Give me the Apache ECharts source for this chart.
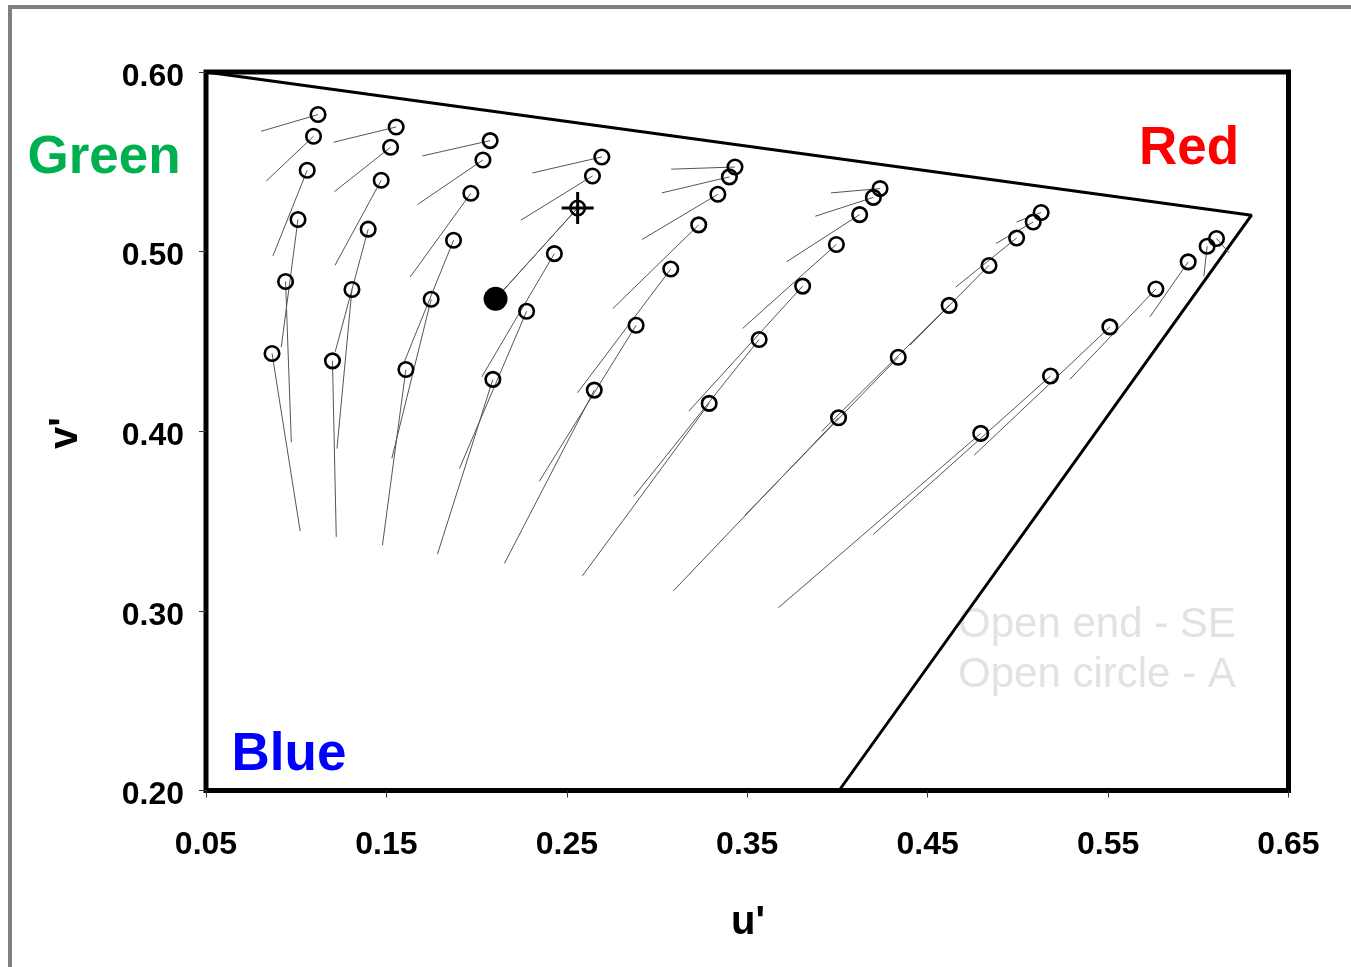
<!DOCTYPE html>
<html><head><meta charset="utf-8">
<script src="https://cdn.jsdelivr.net/npm/echarts@6/dist/echarts.min.js"></script>
<style>html,body{margin:0;padding:0;background:#fff}#c{width:1351px;height:967px}</style>
</head><body><div id="c"></div>
<script>
// Open circles (under illuminant A) and their open-end partners (SE), u'v'
const A1 = [[0.1121,0.5763],[0.1096,0.5642],[0.1061,0.5453],[0.1010,0.5179],[0.0941,0.4834],[0.0866,0.4433]];
const SE1 = [[0.0806,0.5670],[0.0834,0.5393],[0.0871,0.4976],[0.0917,0.4468],[0.0973,0.3939],[0.1022,0.3444]];
const A2 = [[0.1554,0.5694],[0.1523,0.5581],[0.1471,0.5397],[0.1399,0.5125],[0.1309,0.4789],[0.1201,0.4392]];
const SE2 = [[0.1207,0.5609],[0.1212,0.5334],[0.1215,0.4924],[0.1216,0.4442],[0.1226,0.3904],[0.1222,0.3412]];
const A3 = [[0.2075,0.5618],[0.2035,0.5510],[0.1968,0.5325],[0.1872,0.5063],[0.1748,0.4735],[0.1608,0.4344]];
const SE3 = [[0.1700,0.5533],[0.1672,0.5262],[0.1632,0.4859],[0.1599,0.4386],[0.1530,0.3849],[0.1478,0.3366]];
const A4 = [[0.2694,0.5527],[0.2642,0.5421],[0.2560,0.5243],[0.2431,0.4989],[0.2277,0.4668],[0.2090,0.4289]];
const SE4 = [[0.2309,0.5438],[0.2245,0.5175],[0.2105,0.4737],[0.2029,0.4303],[0.1905,0.3793],[0.1783,0.3316]];
const A5 = [[0.3432,0.5471],[0.3401,0.5416],[0.3337,0.5319],[0.3231,0.5149],[0.3076,0.4903],[0.2884,0.4590],[0.2652,0.4229]];
const SE5 = [[0.3078,0.5459],[0.3026,0.5327],[0.2916,0.5067],[0.2755,0.4683],[0.2559,0.4214],[0.2348,0.3722],[0.2154,0.3264]];
const A6 = [[0.4236,0.5351],[0.4199,0.5302],[0.4123,0.5206],[0.3994,0.5040],[0.3807,0.4808],[0.3566,0.4511],[0.3289,0.4155]];
const SE6 = [[0.3964,0.5327],[0.3877,0.5197],[0.3719,0.4944],[0.3474,0.4572],[0.3176,0.4112],[0.2871,0.3637],[0.2586,0.3195]];
const A7 = [[0.5129,0.5218],[0.5085,0.5165],[0.4993,0.5076],[0.4840,0.4923],[0.4619,0.4701],[0.4337,0.4412],[0.4006,0.4075]];
const SE7 = [[0.4993,0.5165],[0.4878,0.5045],[0.4655,0.4802],[0.4402,0.4479],[0.3913,0.4000],[0.3488,0.3533],[0.3091,0.3112]];
const A8 = [[0.6101,0.5073],[0.6049,0.5030],[0.5944,0.4943],[0.5765,0.4792],[0.5510,0.4581],[0.5181,0.4308],[0.4794,0.3988]];
const SE8 = [[0.6171,0.4993],[0.6031,0.4863],[0.5732,0.4637],[0.5288,0.4289],[0.4758,0.3867],[0.4199,0.3426],[0.3672,0.3017]];

const whiteA = [0.2560, 0.5243];
const whiteE = [0.2105, 0.4737];
const gamut = [[0.05, 0.60], [0.6295, 0.5203], [0.4009, 0.20]];

const uTicks = ['0.05','0.15','0.25','0.35','0.45','0.55','0.65'];
const vTicks = ['0.20','0.30','0.40','0.50','0.60'];

const aSets = [A1, A2, A3, A4, A5, A6, A7, A8];
const seSets = [SE1, SE2, SE3, SE4, SE5, SE6, SE7, SE8];

const segs = [];
aSets.forEach((a, k) => a.forEach((p, i) => segs.push({ coords: [p, seSets[k][i]] })));
const circles = [].concat(...aSets);

const chart = echarts.init(document.getElementById('c'), null, { renderer: 'canvas' });
const FONT = '"Liberation Sans", Arial, sans-serif';
const tickText = { fontFamily: FONT, fontSize: 32, fontWeight: 'bold', color: '#000' };
chart.setOption({
  animation: false,
  backgroundColor: '#fff',
  grid: { left: 206, right: 62.5, top: 72, bottom: 176.5, show: true, borderColor: '#000', borderWidth: 5, backgroundColor: 'transparent' },
  xAxis: {
    type: 'value', min: 0.05, max: 0.65, interval: 0.1,
    axisLine: { show: false }, splitLine: { show: false },
    axisTick: { show: true, length: 7, lineStyle: { color: '#333', width: 1 } },
    axisLabel: Object.assign({ margin: 39,
      formatter: (v) => { const s = v.toFixed(2); return uTicks.includes(s) ? s : ''; } }, tickText)
  },
  yAxis: {
    type: 'value', min: 0.2, max: 0.6, interval: 0.1,
    axisLine: { show: false }, splitLine: { show: false },
    axisTick: { show: true, length: 7, lineStyle: { color: '#333', width: 1 } },
    axisLabel: Object.assign({ margin: 22,
      rich: { p: Object.assign({ padding: [10, 0, 0, 0] }, tickText) },
      formatter: (v) => { const s = v.toFixed(2); return vTicks.includes(s) ? '{p|' + s + '}' : ''; } }, tickText)
  },
  series: [
    { type: 'line', data: gamut, symbol: 'none', lineStyle: { color: '#000', width: 3 }, silent: true, z: 2, clip: true },
    { type: 'lines', coordinateSystem: 'cartesian2d', data: segs, polyline: false,
      lineStyle: { color: '#555', width: 1, opacity: 1 }, silent: true, z: 3 },
    { type: 'lines', coordinateSystem: 'cartesian2d', data: [{ coords: [whiteA, whiteE] }],
      lineStyle: { color: '#555', width: 1, opacity: 1 }, silent: true, z: 3 },
    { type: 'scatter', data: circles, symbol: 'circle', symbolSize: 14.5,
      itemStyle: { color: 'rgba(255,255,255,0)', borderColor: '#000', borderWidth: 2.6, opacity: 1 }, silent: true, z: 4 },
    { type: 'scatter', data: [whiteE], symbol: 'circle', symbolSize: 24, itemStyle: { color: '#000', opacity: 1 }, silent: true, z: 5 },
    { type: 'scatter', data: [whiteA], symbol: 'rect', symbolSize: [32, 3], itemStyle: { color: '#000', opacity: 1 }, silent: true, z: 5 },
    { type: 'scatter', data: [whiteA], symbol: 'rect', symbolSize: [3, 32], itemStyle: { color: '#000', opacity: 1 }, silent: true, z: 5 }
  ],
  graphic: [
    { type: 'rect', shape: { x: 10, y: 7, width: 1500, height: 1200 }, style: { fill: 'none', stroke: '#808080', lineWidth: 4 }, silent: true, z: -1 },
    { type: 'text', x: 104, y: 158, style: { text: 'Green', fill: '#00B050', font: 'bold 53px ' + FONT, textAlign: 'center', textVerticalAlign: 'middle' } },
    { type: 'text', x: 1189, y: 149, style: { text: 'Red', fill: '#FF0000', font: 'bold 53px ' + FONT, textAlign: 'center', textVerticalAlign: 'middle' } },
    { type: 'text', x: 289, y: 755, style: { text: 'Blue', fill: '#0000FF', font: 'bold 53px ' + FONT, textAlign: 'center', textVerticalAlign: 'middle' } },
    { type: 'text', x: 958, y: 625, style: { text: 'Open end - SE', fill: '#e2e2e2', font: '42px ' + FONT, textAlign: 'left', textVerticalAlign: 'middle' } },
    { type: 'text', x: 958, y: 675, style: { text: 'Open circle - A', fill: '#e2e2e2', font: '42px ' + FONT, textAlign: 'left', textVerticalAlign: 'middle' } },
    { type: 'text', x: 748, y: 923, style: { text: "u'", fill: '#000', font: 'bold 40px ' + FONT, textAlign: 'center', textVerticalAlign: 'middle' } },
    { type: 'text', x: 66, y: 433, rotation: Math.PI / 2, style: { text: "v'", fill: '#000', font: 'bold 40px ' + FONT, textAlign: 'center', textVerticalAlign: 'middle' } }
  ]
});
</script>
</body></html>
